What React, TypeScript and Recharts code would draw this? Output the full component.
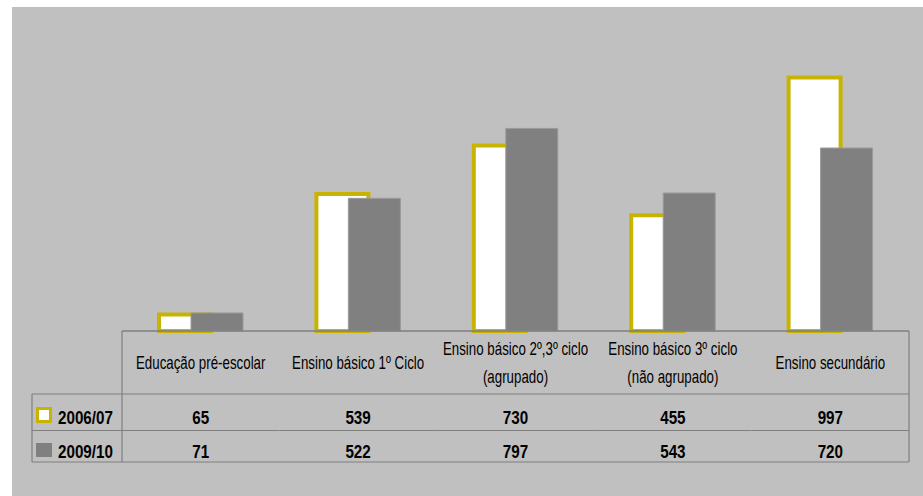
import { BarChart, Bar, XAxis, YAxis } from 'recharts';

// categories (header row of the data table); "\n" marks a wrapped label
const categories = [
  'Educação pré-escolar',
  'Ensino básico 1º Ciclo',
  'Ensino básico 2º,3º ciclo\n(agrupado)',
  'Ensino básico 3º ciclo\n(não agrupado)',
  'Ensino secundário',
];
const seriesNames = ['2006/07', '2009/10'];
const values2006 = [65, 539, 730, 455, 997];
const values2009 = [71, 522, 797, 543, 720];

const data = categories.map((c, i) => ({ name: c, a: values2006[i], b: values2009[i] }));

const FONT = "'Liberation Sans', Arial, sans-serif";
const YELLOW = '#c8b400';
const GREY = '#808080';
const LINE = '#7f7f7f';

// no narrow font installed, so squeeze Liberation Sans horizontally
function Narrow({ x, y, size, bold, anchor = 'middle', sx = 0.8, children }: any) {
  return (
    <text
      transform={`translate(${x},${y}) scale(${sx},1)`}
      x={0}
      y={0}
      textAnchor={anchor}
      dominantBaseline="central"
      fontFamily={FONT}
      fontSize={size}
      fontWeight={bold ? 'bold' : 'normal'}
      fill="#000"
    >
      {children}
    </text>
  );
}

function TableTick(props: any) {
  const { x, y, payload, index } = props;
  const half = payload.offset || 78.7;
  const left = x - half;
  const right = x + half;
  const lines = String(payload.value).split('\n');
  const first = index === 0;
  const last = index === categories.length - 1;
  const legendLeft = left - 90;
  const rowL = first ? legendLeft : left;
  return (
    <g>
      <line x1={rowL} x2={right} y1={y + 63} y2={y + 63} stroke={LINE} strokeWidth={1.2} />
      <line x1={rowL} x2={right} y1={y + 99.5} y2={y + 99.5} stroke={LINE} strokeWidth={1.2} />
      <line x1={rowL} x2={right} y1={y + 131} y2={y + 131} stroke={LINE} strokeWidth={1.2} />
      {first && (
        <>
          <line x1={left} x2={left} y1={y} y2={y + 131} stroke={LINE} strokeWidth={1.2} />
          <line x1={legendLeft} x2={legendLeft} y1={y + 63} y2={y + 131} stroke={LINE} strokeWidth={1.2} />
          <rect x={legendLeft + 5.5} y={y + 77.5} width={13} height={13} fill="#fff" stroke={YELLOW} strokeWidth={3} />
          <Narrow x={legendLeft + 26} y={y + 86} size={19} bold anchor="start">{seriesNames[0]}</Narrow>
          <rect x={legendLeft + 4} y={y + 112} width={16} height={14} fill={GREY} />
          <Narrow x={legendLeft + 26} y={y + 120} size={19} bold anchor="start">{seriesNames[1]}</Narrow>
        </>
      )}
      {last && <line x1={right} x2={right} y1={y} y2={y + 131} stroke={LINE} strokeWidth={1.2} />}
      {lines.map((l, i) => (
        <Narrow key={i} x={x} y={lines.length === 1 ? y + 32 : y + 18 + i * 28} size={18} sx={0.74}>
          {l}
        </Narrow>
      ))}
      <Narrow x={x} y={y + 86} size={19} bold>{values2006[index]}</Narrow>
      <Narrow x={x} y={y + 120} size={19} bold>{values2009[index]}</Narrow>
    </g>
  );
}

export default function App() {
  return (
    <div style={{ position: 'absolute', left: 0, top: 0, width: 923, height: 496, background: '#fff' }}>
      <div style={{ position: 'absolute', left: 12, top: 7, width: 911, height: 489, background: '#c0c0c0' }} />
      <div style={{ position: 'absolute', left: 0, top: 0 }}>
        <BarChart
          width={923}
          height={496}
          data={data}
          margin={{ top: 26, right: 14, left: 122, bottom: 0 }}
          barSize={52}
          barGap={-20}
        >
          <YAxis hide domain={[0, 1200]} />
          <XAxis
            dataKey="name"
            height={165}
            interval={0}
            tickSize={0}
            tickMargin={0}
            tickLine={false}
            axisLine={{ stroke: LINE, strokeWidth: 1.5 }}
            tick={<TableTick />}
          />
          <Bar dataKey="a" name={seriesNames[0]} fill="#fff" stroke={YELLOW} strokeWidth={4} isAnimationActive={false} />
          <Bar dataKey="b" name={seriesNames[1]} fill={GREY} stroke="#9a9a9a" strokeWidth={1} isAnimationActive={false} />
        </BarChart>
      </div>
    </div>
  );
}
